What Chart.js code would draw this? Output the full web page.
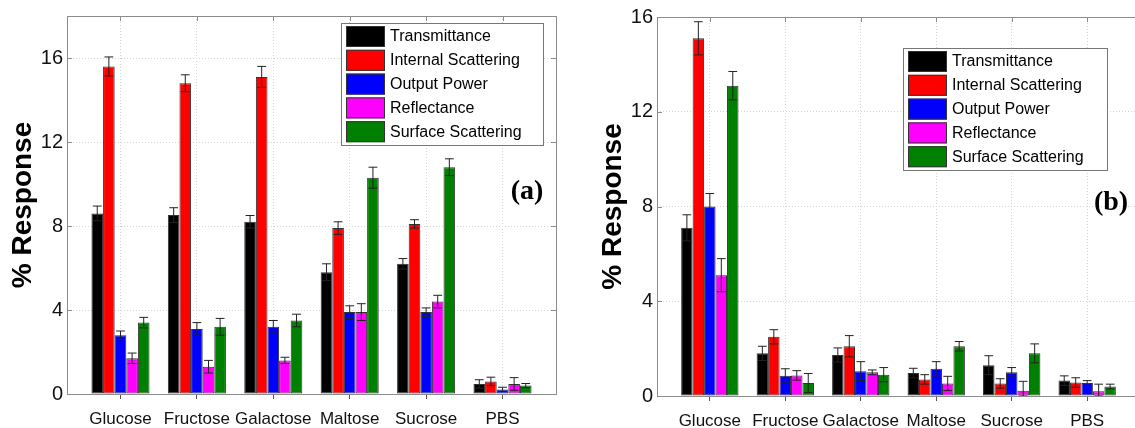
<!DOCTYPE html>
<html>
<head>
<meta charset="utf-8">
<script src="https://cdn.jsdelivr.net/npm/chart.js@4.4.1/dist/chart.umd.min.js"></script>
<style>
  html, body { margin: 0; padding: 0; background: #fff; overflow: hidden; }
  #wrap { position: relative; width: 1135px; height: 428px; overflow: hidden; }
  #boxA { position: absolute; left: 0; top: 0; width: 567px; height: 428px; }
  #boxB { position: absolute; left: 575px; top: 0; width: 575px; height: 428px; }
</style>
</head>
<body>
<div id="wrap">
  <div id="boxA"><canvas id="chartA"></canvas></div>
  <div id="boxB"><canvas id="chartB"></canvas></div>
</div>
<script>
const categories = ['Glucose', 'Fructose', 'Galactose', 'Maltose', 'Sucrose', 'PBS'];
const seriesNames = ['Transmittance', 'Internal Scattering', 'Output Power', 'Reflectance', 'Surface Scattering'];
const seriesColors = ['#000000', '#ff0000', '#0000ff', '#ff00ff', '#008000'];

// panel (a)
const aTransmittance = [8.6, 8.52, 8.2, 5.8, 6.2, 0.48];
const aInternal = [15.6, 14.8, 15.1, 7.9, 8.1, 0.6];
const aOutput = [2.8, 3.1, 3.2, 3.9, 3.9, 0.22];
const aReflect = [1.7, 1.3, 1.6, 3.9, 4.4, 0.48];
const aSurface = [3.4, 3.2, 3.5, 10.3, 10.8, 0.4];
const aTransErr = [0.35, 0.35, 0.3, 0.4, 0.25, 0.2];
const aInternalErr = [0.45, 0.4, 0.5, 0.3, 0.2, 0.2];
const aOutputErr = [0.2, 0.3, 0.3, 0.3, 0.2, 0.1];
const aReflectErr = [0.25, 0.3, 0.15, 0.4, 0.3, 0.3];
const aSurfaceErr = [0.25, 0.4, 0.3, 0.5, 0.4, 0.1];

// panel (b)
const bTransmittance = [7.1, 1.8, 1.73, 0.97, 1.3, 0.65];
const bInternal = [15.1, 2.5, 2.1, 0.7, 0.53, 0.57];
const bOutput = [8.0, 0.85, 1.05, 1.15, 1.0, 0.55];
const bReflect = [5.1, 0.87, 1.0, 0.53, 0.22, 0.2];
const bSurface = [13.1, 0.55, 0.9, 2.1, 1.8, 0.4];
const bTransErr = [0.55, 0.3, 0.3, 0.2, 0.4, 0.2];
const bInternalErr = [0.7, 0.3, 0.45, 0.2, 0.2, 0.2];
const bOutputErr = [0.55, 0.3, 0.4, 0.3, 0.2, 0.1];
const bReflectErr = [0.7, 0.2, 0.1, 0.3, 0.4, 0.3];
const bSurfaceErr = [0.6, 0.4, 0.3, 0.2, 0.4, 0.1];

const yTicksA = [0, 4, 8, 12, 16];
const yTicksB = [0, 4, 8, 12, 16];

function makeDatasets(values, errors) {
  return values.map((vals, s) => ({
    label: seriesNames[s],
    data: vals.map((v, i) => ({ x: i + 1, y: v })),
    errors: errors[s],
    backgroundColor: seriesColors[s],
    borderColor: '#333',
    borderWidth: 1,
    borderSkipped: false,
    categoryPercentage: 0.76,
    barPercentage: 1.0
  }));
}

// box, mirrored ticks, error bars, legend and panel letter
const figurePlugin = {
  id: 'figure',
  afterDatasetsDraw(chart) {
    const ctx = chart.ctx;
    const y = chart.scales.y;
    ctx.save();
    ctx.strokeStyle = '#222';
    ctx.lineWidth = 1;
    chart.data.datasets.forEach((ds, di) => {
      const meta = chart.getDatasetMeta(di);
      meta.data.forEach((bar, i) => {
        const v = ds.data[i].y, e = ds.errors[i];
        const top = y.getPixelForValue(v + e);
        const bot = y.getPixelForValue(Math.max(0, v - e));
        const cap = bar.width * 0.38;
        ctx.beginPath();
        ctx.moveTo(bar.x, top); ctx.lineTo(bar.x, bot);
        ctx.moveTo(bar.x - cap, top); ctx.lineTo(bar.x + cap, top);
        ctx.moveTo(bar.x - cap, bot); ctx.lineTo(bar.x + cap, bot);
        ctx.stroke();
      });
    });
    ctx.restore();
  },
  afterDraw(chart, args, opts) {
    const ctx = chart.ctx;
    const a = chart.chartArea;
    const x = chart.scales.x, y = chart.scales.y;
    ctx.save();
    // plot box
    ctx.strokeStyle = '#8c8c8c';
    ctx.lineWidth = 1;
    ctx.strokeRect(Math.round(a.left) + 0.5, Math.round(a.top) + 0.5, Math.round(a.right - a.left), Math.round(a.bottom - a.top));
    // mirrored ticks
    ctx.beginPath();
    x.ticks.forEach(t => {
      const px = Math.round(x.getPixelForValue(t.value)) + 0.5;
      ctx.moveTo(px, a.top); ctx.lineTo(px, a.top + 5);
    });
    y.ticks.forEach(t => {
      const py = Math.round(y.getPixelForValue(t.value)) + 0.5;
      ctx.moveTo(a.right, py); ctx.lineTo(a.right - 5, py);
      ctx.moveTo(a.left, py); ctx.lineTo(a.left + 5, py);
    });
    ctx.stroke();

    // legend
    const L = opts.legend;
    const lx = a.left + L.dx, ly = a.top + L.dy;
    ctx.fillStyle = '#fff';
    ctx.fillRect(lx, ly, L.w, L.h);
    ctx.strokeStyle = '#777';
    ctx.strokeRect(lx + 0.5, ly + 0.5, L.w, L.h);
    ctx.font = '16px "Liberation Sans", Arial, sans-serif';
    ctx.textBaseline = 'middle';
    ctx.textAlign = 'left';
    chart.data.datasets.forEach((ds, i) => {
      const ry = ly + 3 + i * 23.8;
      ctx.fillStyle = ds.backgroundColor;
      ctx.fillRect(lx + 5, ry, 39, 21);
      ctx.strokeStyle = '#333';
      ctx.strokeRect(lx + 5.5, ry + 0.5, 38, 20);
      ctx.fillStyle = '#000';
      ctx.fillText(ds.label, lx + 49, ry + 11);
    });

    // panel letter
    ctx.font = 'bold 28px "Liberation Serif", "Times New Roman", serif';
    ctx.textAlign = 'center';
    ctx.fillStyle = '#000';
    ctx.fillText(opts.letter, a.left + opts.letterX, a.top + opts.letterY);
    ctx.restore();
  }
};

function makeChart(id, values, errors, yMax, yTicks, geom) {
  return new Chart(document.getElementById(id), {
    type: 'bar',
    data: { datasets: makeDatasets(values, errors) },
    plugins: [figurePlugin],
    options: {
      responsive: true,
      maintainAspectRatio: false,
      animation: false,
      layout: { padding: { left: 0, top: geom.top, right: geom.right, bottom: 0 } },
      scales: {
        x: {
          type: 'linear',
          min: 0.3,
          max: 6.7,
          offset: false,
          afterBuildTicks: s => { s.ticks = categories.map((c, i) => ({ value: i + 1 })); },
          afterFit: s => { s.height = geom.xHeight; },
          ticks: {
            callback: v => categories[Math.round(v) - 1],
            font: { family: '"Liberation Sans", Arial, sans-serif', size: 17 },
            color: '#111',
            padding: 10,
            maxRotation: 0,
            autoSkip: false
          },
          grid: { offset: false, color: '#d4d4d4', tickColor: '#555', tickLength: 5, drawTicks: true },
          border: { display: false, dash: [1, 2] }
        },
        y: {
          min: 0,
          max: yMax,
          afterBuildTicks: s => { s.ticks = yTicks.map(v => ({ value: v })); },
          afterFit: s => { s.width = geom.yWidth; },
          ticks: {
            font: { family: '"Liberation Sans", Arial, sans-serif', size: 20 },
            color: '#111',
            padding: 4
          },
          grid: { color: '#d4d4d4', drawTicks: false },
          border: { display: false, dash: [1, 2] },
          title: {
            display: true,
            text: '% Response',
            font: { family: '"Liberation Sans", Arial, sans-serif', size: 28, weight: 'bold' },
            color: '#000',
            padding: { top: geom.titlePad, bottom: 0 }
          }
        }
      },
      plugins: {
        legend: { display: false },
        tooltip: { enabled: false },
        figure: geom.figure
      }
    }
  });
}

makeChart('chartA',
  [aTransmittance, aInternal, aOutput, aReflect, aSurface],
  [aTransErr, aInternalErr, aOutputErr, aReflectErr, aSurfaceErr],
  18, yTicksA,
  { top: 16, right: 11, xHeight: 34, yWidth: 67, titlePad: 6,
    figure: { legend: { dx: 274, dy: 7, w: 202, h: 122 }, letter: '(a)', letterX: 460, letterY: 176 } });

makeChart('chartB',
  [bTransmittance, bInternal, bOutput, bReflect, bSurface],
  [bTransErr, bInternalErr, bOutputErr, bReflectErr, bSurfaceErr],
  16, yTicksB,
  { top: 17, right: 10, xHeight: 32, yWidth: 82, titlePad: 21,
    figure: { legend: { dx: 246, dy: 31, w: 204, h: 122 }, letter: '(b)', letterX: 454, letterY: 186 } });
</script>
</body>
</html>
